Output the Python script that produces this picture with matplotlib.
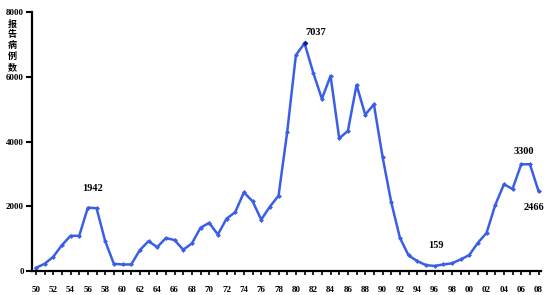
import matplotlib.pyplot as plt

# reported cases per year, 1950-2008
years = list(range(1950, 2009))
cases = [100, 225, 440, 800, 1090, 1090, 1960, 1942, 925, 225,
         205, 205, 650, 925, 740, 1020, 960, 660, 855, 1340,
         1490, 1130, 1620, 1820, 2430, 2160, 1590, 1990, 2330, 4300,
         6670, 7037, 6130, 5320, 6030, 4100, 4330, 5750, 4830, 5150,
         3530, 2130, 1030, 485, 310, 185, 159, 205, 240, 360,
         495, 875, 1180, 2040, 2680, 2540, 3300, 3300, 2466]

# labelled values: (text, x, y)
notes = [("1942", 1956.5, 2560), ("7037", 1982.3, 7380), ("159", 1996.2, 780),
         ("3300", 2006.3, 3680), ("2466", 2007.5, 1960)]

xtick_years = list(range(1950, 2009, 2))
xtick_labels = ["%02d" % (y % 100) for y in xtick_years]
yticks = [0, 2000, 4000, 6000, 8000]

serif = "Liberation Serif"
blue = "#3a5fe6"

fig = plt.figure(figsize=(5.54, 2.95), dpi=100)
ax = fig.add_axes([0.058, 0.081, 0.919, 0.878])

ax.plot(years, cases, color=blue, linewidth=1.8, marker="D", markersize=2.5,
        markeredgewidth=0)
peak = cases.index(max(cases))
ax.plot(years[peak], cases[peak], marker="D", markersize=3, color="#1020a0",
        markeredgewidth=0)

for t, x, y in notes:
    ax.text(x, y, t, ha="center", va="center", fontsize=7.5,
            fontweight="bold", family=serif)

ax.set_xlim(1949.57, 2008.31)
ax.set_ylim(0, 8000)
ax.set_xticks(years, minor=True)
ax.set_xticks(xtick_years)
ax.set_xticklabels(xtick_labels)
ax.set_yticks(yticks)

for lab in ax.get_xticklabels() + ax.get_yticklabels():
    lab.set_family(serif)
    lab.set_fontweight("bold")
    lab.set_fontsize(6.5)

ax.tick_params(axis="x", which="both", direction="out", length=3, width=1.2,
               pad=8)
ax.tick_params(axis="y", direction="out", length=4, width=1.5, pad=2)

for s in ["top", "right"]:
    ax.spines[s].set_visible(False)
for s in ["left", "bottom"]:
    ax.spines[s].set_linewidth(1.6)

fig.text(0.022, 0.845, "报\n告\n病\n例\n数", ha="center", va="center",
         fontsize=6.5, fontweight="bold", linespacing=1.25,
         family=["Noto Sans CJK SC", "DejaVu Sans"])

fig.savefig("out.png", dpi=100)
